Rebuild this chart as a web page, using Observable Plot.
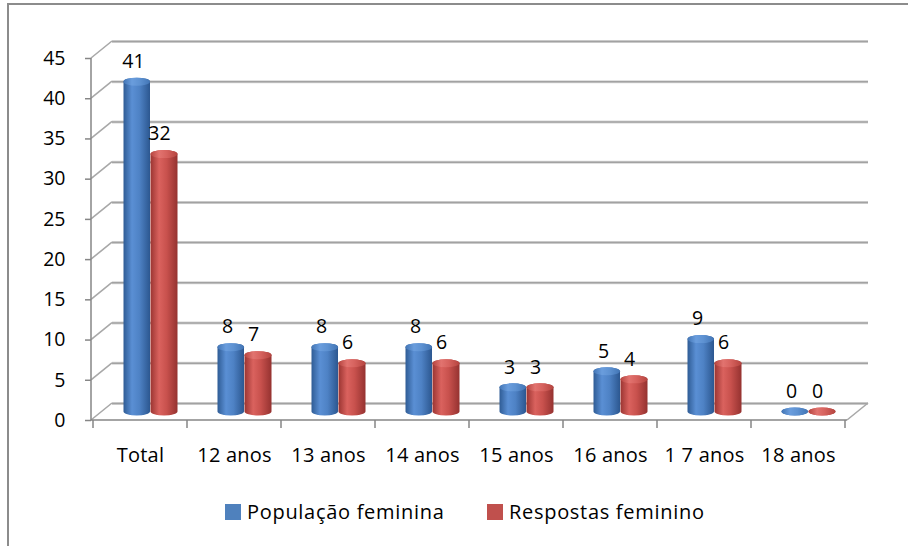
<!DOCTYPE html>
<html>
<head>
<meta charset="utf-8">
<script src="https://cdn.jsdelivr.net/npm/d3@7"></script>
<script src="https://cdn.jsdelivr.net/npm/@observablehq/plot@0.6"></script>
<style>
  body { margin: 0; background: #fff; overflow: hidden; font-family: "Open Sans", sans-serif; }
  #wrap { position: relative; width: 908px; height: 546px; overflow: hidden; }
  #border { position: absolute; left: 7px; top: 3px; width: 1000px; height: 1000px; border: 2px solid #8c8c8c; }
  #chart { position: absolute; left: 0; top: 0; }
  #chart svg g[aria-label="x-axis tick label"] text { letter-spacing: 0.2px; }
  .lg { position: absolute; font-size: 20px; line-height: 20px; letter-spacing: 0.7px; color: #000; white-space: nowrap; }
  .sw { position: absolute; width: 16px; height: 16px; }
</style>
</head>
<body>
<div id="wrap">
  <div id="border"></div>
  <div id="chart"></div>
  <div id="legend"></div>
</div>
<script>
// ---- data ----
const categories = ["Total", "12 anos", "13 anos", "14 anos", "15 anos", "16 anos", "1 7 anos", "18 anos"];
const populacaoFeminina = [41, 8, 8, 8, 3, 5, 9, 0];
const respostasFeminino = [32, 7, 6, 6, 3, 4, 6, 0];
const seriesNames = ["População feminina", "Respostas feminino"];
const yTicks = [0, 5, 10, 15, 20, 25, 30, 35, 40, 45];

const blueRows = categories.map((c, i) => ({cat: c, value: populacaoFeminina[i]}));
const redRows = categories.map((c, i) => ({cat: c, value: respostasFeminino[i]}));

// ---- 3D look ----
const DX = 21, DY = -17;
const BAND = (847 - 91) / categories.length;
const lineColor = "#868686";
const ns = "http://www.w3.org/2000/svg";

function el(name, attrs) {
  const e = document.createElementNS(ns, name);
  for (const k in attrs) e.setAttribute(k, attrs[k]);
  return e;
}

function defs() {
  const d = el("defs", {});
  const grads = {
    gBlue: ["#2f5c95", "#5a8fd4", "#4e82c5", "#2c5790"],
    gRed: ["#9b3532", "#da625e", "#c8514d", "#953230"],
    gBlueTop: ["#4275b5", "#6a9ddd", "#5e92d2", "#4275b5"],
    gRedTop: ["#b5443f", "#e2736f", "#d6625e", "#b5443f"]
  };
  for (const id in grads) {
    const g = el("linearGradient", {id, x1: "0", x2: "1", y1: "0", y2: "0"});
    const offs = ["0", "0.32", "0.6", "1"];
    grads[id].forEach((c, i) => g.appendChild(el("stop", {offset: offs[i], "stop-color": c})));
    d.appendChild(g);
  }
  return d;
}

function walls(index, scales, values, dims) {
  const g = el("g", {stroke: lineColor, "stroke-width": 1.5, fill: "none"});
  const y = scales.y, x = scales.x;
  const left = dims.marginLeft, right = dims.width - dims.marginRight;
  const y0 = y(0);
  const ln = (x1, y1, x2, y2, c, w) => g.appendChild(el("line", {x1, y1, x2, y2, stroke: c || lineColor, "stroke-width": w || 1.5}));
  // side wall diagonals
  for (const t of yTicks) ln(left, y(t), left + DX, y(t) + DY, "#a8a8a8", 1.6);
  // floor right edge
  ln(right, y0, right + DX, y0 + DY, "#a8a8a8", 1.6);
  // y axis line
  ln(left, y(0), left, y(yTicks[yTicks.length - 1]));
  // floor front edge (x axis line)
  ln(left, y0, right, y0);
  // x ticks at band boundaries
  const starts = categories.map(c => x(c));
  const step = starts[1] - starts[0];
  starts.concat([starts[starts.length - 1] + step]).forEach(xb => ln(xb, y0, xb, y0 + 8));
  return g;
}

const common = {x: "cat", dy: -8.5, rx: 13.5, ry: 4, insetTop: -4, insetBottom: -4};
const blueInset = {insetLeft: 30.5, insetRight: BAND - 57.5};
const redInset = {insetLeft: 57.5, insetRight: BAND - 85};

const plot = Plot.plot({
  width: 908,
  height: 480,
  marginLeft: 91,
  marginRight: 61,
  marginTop: 58,
  marginBottom: 60,
  style: {background: "none", fontFamily: "Open Sans", color: "#000"},
  x: {domain: categories, range: [91, 847], padding: 0},
  y: {domain: [0, 45], range: [420, 58]},
  marks: [
    defs,
    Plot.ruleY(yTicks, {dx: DX, dy: DY, stroke: "#d6d6d6", strokeWidth: 3}),
    Plot.ruleY(yTicks, {dx: DX, dy: DY, stroke: "#a2a2a2", strokeWidth: 1.5}),
    walls,
    Plot.axisY(yTicks, {tickSize: 6, tickPadding: 20, fontSize: 19.5, label: null, stroke: lineColor, strokeWidth: 1.5}),
    Plot.axisX({tickSize: 0, tickPadding: 27, fontSize: 20, label: null}),
    // cylinders
    Plot.barY(blueRows, {...common, ...blueInset, y1: 0, y2: "value", fill: "url(#gBlue)"}),
    Plot.barY(blueRows, {...common, ...blueInset, y1: "value", y2: "value", fill: "url(#gBlueTop)"}),
    Plot.barY(redRows, {...common, ...redInset, y1: 0, y2: "value", fill: "url(#gRed)"}),
    Plot.barY(redRows, {...common, ...redInset, y1: "value", y2: "value", fill: "url(#gRedTop)"}),
    // value labels
    Plot.text(blueRows, {x: "cat", y: "value", text: d => String(d.value), dx: -7, dy: -29, fontSize: 19.5, fill: "#000"}),
    Plot.text(redRows, {x: "cat", y: "value", text: d => String(d.value), dx: 19, dy: -29, fontSize: 19.5, fill: "#000"})
  ]
});
document.getElementById("chart").appendChild(plot);

// legend
const legend = document.getElementById("legend");
const legendColors = ["#4F81BD", "#C0504D"];
const swatchX = [225, 487];
seriesNames.forEach((name, i) => {
  const sw = document.createElement("div");
  sw.className = "sw";
  sw.style.left = swatchX[i] + "px";
  sw.style.top = "504px";
  sw.style.background = legendColors[i];
  legend.appendChild(sw);
  const t = document.createElement("div");
  t.className = "lg";
  t.style.left = (swatchX[i] + 22) + "px";
  t.style.top = "502px";
  t.textContent = name;
  legend.appendChild(t);
});
</script>
</body>
</html>
